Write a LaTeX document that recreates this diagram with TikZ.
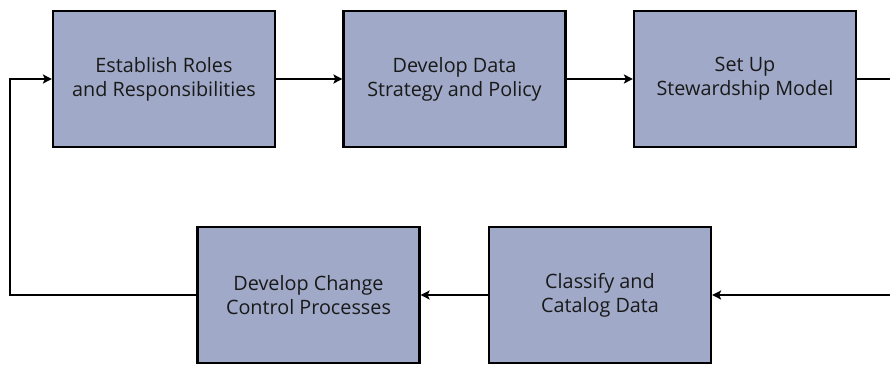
\documentclass[tikz,border=0pt]{standalone}
\usepackage{fontspec}
\setmainfont{Open Sans}
\usetikzlibrary{arrows.meta}
\definecolor{boxfill}{RGB}{160,170,200}
\tikzset{
  stepbox/.style={draw=black, line width=2.2pt, fill=boxfill, minimum width=222pt, minimum height=136pt, inner sep=0pt, align=center, font=\fontsize{19.8pt}{24pt}\selectfont, text=black!90},
  conn/.style={line width=1.8pt, -{Stealth[length=9pt,width=9pt,inset=2pt]}},
  plain/.style={line width=1.8pt}
}
\begin{document}
\begin{tikzpicture}[x=1pt,y=-1pt]
\useasboundingbox (0,0) rectangle (890,367);
\node[stepbox] (b1) at (164,79) {Establish Roles\\and Responsibilities};
\node[stepbox] (b2) at (454.5,79) {Develop Data\\Strategy and Policy};
\node[stepbox] (b3) at (745,79) {Set Up\\Stewardship Model};
\node[stepbox] (b4) at (308.5,295) {Develop Change\\Control Processes};
\node[stepbox] (b5) at (600,295) {Classify and\\Catalog Data};
\coordinate (r1) at (892,79);
\coordinate (r2) at (892,295);
\coordinate (l1) at (10,295);
\coordinate (l2) at (10,79);
\draw[conn] (b1) -- (b2);
\draw[conn] (b2) -- (b3);
\draw[plain] (b3.east) -- (r1);
\draw[conn] (r2) -- (b5.east);
\draw[conn] (b5) -- (b4);
\draw[conn] (b4.west) -- (l1) -- (l2) -- (b1.west);
\end{tikzpicture}
\end{document}
